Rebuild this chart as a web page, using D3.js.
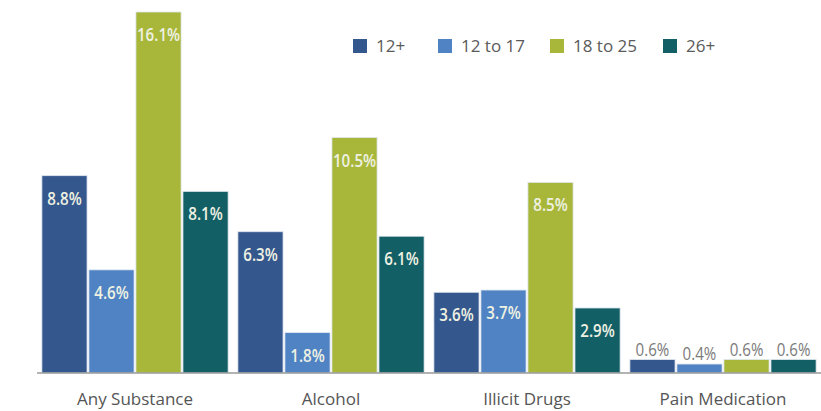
<!DOCTYPE html>
<html>
<head>
<meta charset="utf-8">
<script src="https://cdn.jsdelivr.net/npm/d3@7"></script>
<style>
  html, body { margin: 0; padding: 0; background: #fff; }
  svg { display: block; }
</style>
</head>
<body>
<svg id="chart" width="821" height="411"></svg>
<script>
// Past-month use by age group, percent
const categories = ["Any Substance", "Alcohol", "Illicit Drugs", "Pain Medication"];
const seriesNames = ["12+", "12 to 17", "18 to 25", "26+"];
const age12plus  = [8.8, 6.3, 3.6, 0.6];
const age12to17  = [4.6, 1.8, 3.7, 0.4];
const age18to25  = [16.1, 10.5, 8.5, 0.6];
const age26plus  = [8.1, 6.1, 2.9, 0.6];
const colors = ["#34578d", "#4f83c4", "#a8b73a", "#135f66"];

const seriesValues = [age12plus, age12to17, age18to25, age26plus];
const rows = categories.map((c, i) => ({
  category: c,
  values: seriesNames.map((s, j) => ({ series: s, idx: j, value: seriesValues[j][i] }))
}));

const svg = d3.select("#chart");
const baseY = 373;

const x0 = d3.scaleBand().domain(categories).range([37, 821]).paddingInner(0.05).paddingOuter(0.025);
const x1 = d3.scaleBand().domain(seriesNames).range([0, x0.bandwidth()]).paddingInner(0.04);
const y = d3.scaleLinear().domain([0, 16.1]).range([baseY, 12]);

const groups = svg.append("g").selectAll("g")
  .data(rows).join("g")
  .attr("transform", d => `translate(${x0(d.category)},0)`);

groups.selectAll("rect")
  .data(d => d.values).join("rect")
  .attr("x", d => x1(d.series))
  .attr("y", d => y(d.value))
  .attr("width", x1.bandwidth())
  .attr("height", d => baseY - y(d.value))
  .attr("fill", d => colors[d.idx])
  .attr("stroke", "#dfe6ee")
  .attr("stroke-width", 0.8);

// value labels: inside the bar top, or above very short bars (horizontally condensed)
groups.selectAll("g.lbl")
  .data(d => d.values).join("g")
  .attr("class", "lbl")
  .attr("transform", d => {
    const cx = x1(d.series) + x1.bandwidth() / 2;
    const cy = d.value >= 1 ? y(d.value) + 29 : y(d.value) - 4;
    return `translate(${cx},${cy}) scale(0.84,1)`;
  })
  .append("text")
  .attr("text-anchor", "middle")
  .attr("font-family", "'Open Sans', sans-serif")
  .attr("font-weight", d => d.value >= 1 ? 600 : 400)
  .attr("font-size", 18)
  .attr("fill", d => d.value >= 1 ? "#eef1e2" : "#7c7c7c")
  .text(d => d.value.toFixed(1) + "%");

// baseline axis with category labels
const axis = svg.append("g")
  .attr("transform", `translate(0,${baseY})`)
  .call(d3.axisBottom(x0).tickSize(0));
axis.select(".domain").attr("stroke", "#9a9a9a").attr("stroke-width", 1.5)
  .attr("d", "M37,0H821");
axis.selectAll("text")
  .attr("y", 32).attr("dy", null)
  .attr("font-family", "'Open Sans', sans-serif")
  .attr("font-size", 17)
  .attr("fill", "#555");

// legend
const legendX = [353, 438, 550, 663];
const legend = svg.append("g").selectAll("g")
  .data(seriesNames).join("g")
  .attr("transform", (d, i) => `translate(${legendX[i]},39)`);
legend.append("rect")
  .attr("width", 14).attr("height", 14)
  .attr("fill", (d, i) => colors[i]);
legend.append("text")
  .attr("x", 23).attr("y", 13)
  .attr("font-family", "'Open Sans', sans-serif")
  .attr("font-size", 17)
  .attr("fill", "#5a5a5a")
  .text(d => d);
</script>
</body>
</html>
